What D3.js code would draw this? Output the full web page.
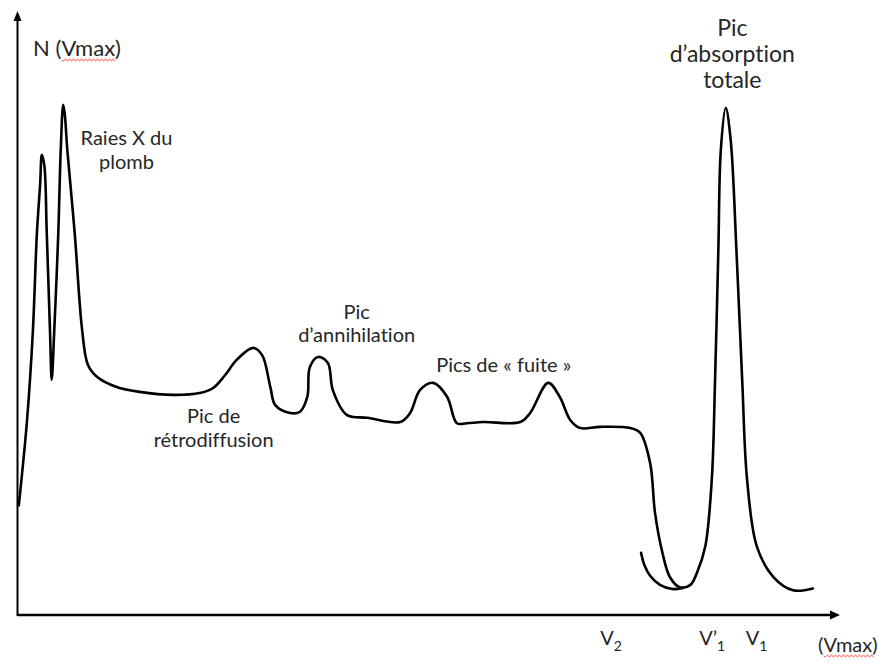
<!DOCTYPE html>
<html>
<head>
<meta charset="utf-8">
<script src="https://cdn.jsdelivr.net/npm/d3@7"></script>
<style>
body { margin: 0; background: #fff; }
text { font-family: Lato, "Open Sans", sans-serif; fill: #262626; font-variant-ligatures: none; }
</style>
</head>
<body>
<svg id="chart" width="885" height="668"></svg>
<script>
// spectrum: energy (0-100, arbitrary) vs counts (0-100, arbitrary)
var specX = [0.1, 1.1, 1.8, 2.3, 2.7, 2.9, 3.2, 3.5, 3.9, 4.1, 4.4, 4.9, 5.2, 5.5, 5.7, 6.0, 6.9, 7.8, 8.5, 9.6,
  12.0, 14.8, 18.9, 22.1, 23.7, 25.2, 26.6, 28.6, 29.7, 30.7, 31.3, 33.1, 34.3, 35.2, 35.5, 36.5, 37.7, 38.3, 40.0, 42.5,
  46.5, 47.7, 48.9, 50.5, 52.2, 53.4, 54.6, 56.6, 61.1, 62.3, 64.5, 65.9, 67.2, 68.4, 70.8, 74.5, 75.7, 76.9, 77.5, 78.4,
  79.3, 80.5, 81.8, 82.6, 83.6, 84.4, 84.8, 85.2, 85.5, 86.1, 86.7, 87.4, 88.1, 88.7, 89.9, 91.9, 94.3, 96.7];
var specY = [18.2, 32.3, 46.8, 63.3, 71.6, 76.3, 74.6, 63.3, 46.8, 39.0, 46.8, 63.3, 77.1, 84.6, 82.9, 77.1, 63.3, 47.3, 41.5, 39.5,
  37.8, 37.0, 36.5, 36.8, 37.6, 39.8, 42.3, 44.3, 43.1, 37.8, 34.8, 33.5, 33.7, 36.2, 41.1, 42.8, 41.8, 37.3, 33.2, 32.7,
  32.0, 33.5, 37.3, 38.5, 36.2, 31.8, 31.8, 32.0, 32.0, 33.5, 38.5, 36.2, 32.3, 31.0, 31.2, 31.0, 30.2, 25.2, 16.9, 10.3,
  6.3, 4.6, 5.0, 7.0, 11.3, 22.4, 39.0, 60.5, 77.1, 84.1, 78.8, 60.5, 39.0, 22.4, 11.3, 6.3, 4.1, 4.4];

// left tail of the full absorption peak (second stroke)
var tailX = [75.8, 76.2, 76.9, 78.1, 79.6, 80.9];
var tailY = [10.3, 8.3, 6.5, 5.0, 4.3, 4.5];

// x axis marks
var tickValues = [72.1, 84.4, 89.8];
var tickMain = ["V", "V\u2019", "V"];
var tickSub = ["2", "1", "1"];

// annotations (anchor in data units: centre x, first baseline y)
var noteText = [["Raies X du", "plomb"], ["Pic de", "rétrodiffusion"], ["Pic", "d\u2019annihilation"],
  ["Pics de \u00ab fuite \u00bb"], ["Pic", "d\u2019absorption", "totale"]];
var noteX = [13.2, 23.8, 41.2, 59.1, 86.9];
var noteY = [77.9, 31.8, 49.1, 40.3, 96.0];

var svg = d3.select("#chart");

var x = d3.scaleLinear().domain([0, 100]).range([18, 840]);
var y = d3.scaleLinear().domain([0, 100]).range([615, 12]);

// axes with arrow heads
var x0 = x.range()[0], x1 = x.range()[1];
var yb = y.range()[0], yt = y.range()[1];

svg.append("line")
  .attr("x1", x0 - 0.5).attr("y1", yb)
  .attr("x2", x1 - 6).attr("y2", yb)
  .attr("stroke", "#000").attr("stroke-width", 2.4);
svg.append("path")
  .attr("d", "M" + x1 + "," + yb + "L" + (x1 - 10) + "," + (yb - 4.5) + "L" + (x1 - 10) + "," + (yb + 4.5) + "Z")
  .attr("fill", "#000");

svg.append("line")
  .attr("x1", x0 - 0.5).attr("y1", yb + 1)
  .attr("x2", x0 - 0.5).attr("y2", yt + 6)
  .attr("stroke", "#000").attr("stroke-width", 2);
svg.append("path")
  .attr("d", "M" + (x0 - 0.5) + "," + (yt - 1) + "L" + (x0 - 4.5) + "," + (yt + 9) + "L" + (x0 + 3.5) + "," + (yt + 9) + "Z")
  .attr("fill", "#000");

// tick labels V2, V'1, V1
var xAxis = d3.axisBottom(x).tickValues(tickValues).tickSize(0).tickSizeOuter(0).tickFormat("");
var gx = svg.append("g").attr("transform", "translate(0," + yb + ")").call(xAxis);
gx.select(".domain").remove();
gx.selectAll(".tick text")
  .attr("y", 30).attr("dy", 0)
  .style("font-size", "20px")
  .each(function(d, i) {
    var t = d3.select(this);
    t.append("tspan").text(tickMain[i]);
    t.append("tspan").attr("dy", 6).style("font-size", "14px").text(tickSub[i]);
  });

// red spell-check squiggle under a word
function squiggle(textNode, start, n) {
  var p = textNode.getStartPositionOfChar(start);
  var w = textNode.getSubStringLength(start, n);
  var yy = p.y + 4, d = "M" + p.x + "," + yy;
  for (var k = 0, xx = p.x; xx < p.x + w; k++) {
    xx += 2;
    d += "L" + xx + "," + (yy + (k % 2 ? -1.2 : 1.2));
  }
  svg.append("path").attr("d", d).attr("fill", "none")
    .attr("stroke", "#e8554e").attr("stroke-width", 0.9);
}

// axis titles
var yTitle = svg.append("text")
  .attr("x", x0 + 15).attr("y", yt + 44)
  .style("font-size", "22px")
  .text("N (Vmax)");
squiggle(yTitle.node(), 3, 4);

var xTitle = svg.append("text")
  .attr("x", x1 - 22).attr("y", yb + 37)
  .style("font-size", "20px")
  .text("(Vmax)");
squiggle(xTitle.node(), 1, 4);

// spectrum curves
var line = d3.line()
  .x(function(d) { return x(d[0]); })
  .y(function(d) { return y(d[1]); })
  .curve(d3.curveCatmullRom.alpha(0.5));

svg.append("path")
  .datum(specX.map(function(v, i) { return [v, specY[i]]; }))
  .attr("d", line)
  .attr("fill", "none").attr("stroke", "#000")
  .attr("stroke-width", 2.6).attr("stroke-linejoin", "round").attr("stroke-linecap", "round");

svg.append("path")
  .datum(tailX.map(function(v, i) { return [v, tailY[i]]; }))
  .attr("d", line)
  .attr("fill", "none").attr("stroke", "#000")
  .attr("stroke-width", 2.6).attr("stroke-linecap", "round");

// annotations
noteText.forEach(function(lines, i) {
  var big = i === 4;
  var t = svg.append("text")
    .attr("text-anchor", "middle")
    .style("font-size", big ? "23px" : "20px");
  lines.forEach(function(s, j) {
    t.append("tspan")
      .attr("x", x(noteX[i]))
      .attr("y", y(noteY[i]) + j * (big ? 26 : 23.5))
      .text(s);
  });
});
</script>
</body>
</html>
